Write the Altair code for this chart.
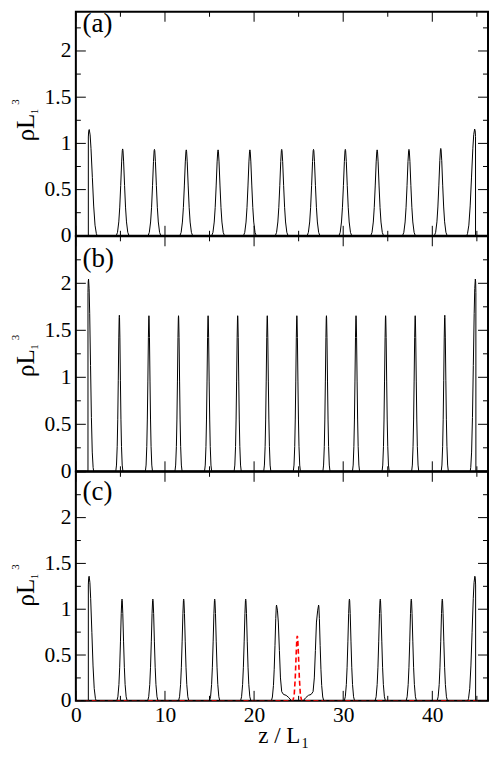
import altair as alt
import pandas as pd

X_MAX = 46.25
FONT = "Times New Roman, Liberation Serif, Tinos, Nimbus Roman, DejaVu Serif, serif"

# ---- peak shape (offset in half-widths, fraction of height)
PEAK_DX = [-1.0, -0.8, -0.6, -0.45, -0.3, -0.15, -0.05, 0.0, 0.05, 0.15, 0.3, 0.45, 0.6, 0.8, 1.0]
PEAK_F = [0.0, 0.04, 0.16, 0.33, 0.58, 0.86, 0.985, 1.0, 0.985, 0.86, 0.58, 0.33, 0.16, 0.04, 0.0]
# wall peak shape (distance from wall in wall-widths, fraction of height)
WALL_DX = [0.0, 0.0, 0.04, 0.1, 0.2, 0.3, 0.45, 0.6, 0.75, 0.9, 1.0]
WALL_F = [0.0, 0.93, 0.985, 1.0, 0.95, 0.82, 0.55, 0.28, 0.1, 0.02, 0.0]

# ---- panel (a)
a_walls = [1.40, 44.85]
a_wall_h = [1.15, 1.155]
a_wall_w = 1.0
a_centers = [5.25, 8.82, 12.39, 15.96, 19.53, 23.10, 26.67, 30.24, 33.81, 37.38, 40.95]
a_heights = [0.94, 0.935, 0.93, 0.93, 0.93, 0.935, 0.935, 0.935, 0.93, 0.935, 0.945]
a_hw = 0.72

# ---- panel (b)
b_walls = [1.36, 44.89]
b_wall_h = [2.045, 2.045]
b_wall_w = 0.64
b_centers = [4.88, 8.20, 11.52, 14.84, 18.16, 21.48, 24.80, 28.12, 31.44, 34.76, 38.08, 41.40]
b_heights = [1.66, 1.655, 1.655, 1.655, 1.655, 1.655, 1.655, 1.655, 1.655, 1.655, 1.655, 1.66]
b_hw = 0.40

# ---- panel (c)
c_walls = [1.40, 44.86]
c_wall_h = [1.36, 1.36]
c_wall_w = 0.88
c_centers = [5.18, 8.64, 12.10, 15.58, 19.06, 22.52, 27.24, 30.70, 34.16, 37.64, 41.12]
c_heights = [1.11, 1.11, 1.11, 1.11, 1.11, 1.045, 1.045, 1.11, 1.11, 1.11, 1.11]
c_sides = ["both", "both", "both", "both", "both", "left", "right", "both", "both", "both", "both"]
c_hw = 0.58
# black line around the defect (shoulders)
c_defect_x = [22.62, 22.72, 22.84, 22.96, 23.10, 23.30, 23.60, 23.90, 24.20,
              25.50, 25.80, 26.10, 26.40, 26.62, 26.76, 26.88, 27.00, 27.14]
c_defect_y = [0.99, 0.86, 0.55, 0.25, 0.10, 0.07, 0.06, 0.035, 0.0,
              0.0, 0.035, 0.06, 0.07, 0.10, 0.25, 0.55, 0.86, 0.99]
# red dashed profile
red_x = [0.0, 24.35, 24.50, 24.62, 24.72, 24.80, 24.85, 24.90, 24.98, 25.08, 25.20, 25.35, 46.25]
red_y = [0.0, 0.0, 0.06, 0.25, 0.50, 0.68, 0.71, 0.68, 0.50, 0.25, 0.06, 0.0, 0.0]

Y_MAJOR = [0, 0.5, 1, 1.5, 2, 2.5]
Y_MINOR = [0.25, 0.75, 1.25, 1.75, 2.25]
Y_LABELS = [0, 0.5, 1, 1.5, 2]
X_MAJOR = [0, 10, 20, 30, 40]
X_MINOR = [5, 15, 25, 35, 45]

W = 413


def build_line(walls, wall_h, wall_w, centers, heights, hw, sides=None, ex=None, ey=None):
    pts = [(0.0, 0.0)]
    for dx, f in zip(WALL_DX, WALL_F):
        pts.append((walls[0] + dx * wall_w, f * wall_h[0]))
    if sides is None:
        sides = ["both"] * len(centers)
    for c, h, s in zip(centers, heights, sides):
        for dx, f in zip(PEAK_DX, PEAK_F):
            if s == "left" and dx > 0:
                continue
            if s == "right" and dx < 0:
                continue
            pts.append((c + dx * hw, f * h))
    if ex is not None:
        pts += list(zip(ex, ey))
    rw = [(walls[1] - dx * wall_w, f * wall_h[1]) for dx, f in zip(WALL_DX, WALL_F)]
    pts += rw[::-1]
    pts.append((X_MAX, 0.0))
    pts = sorted(pts, key=lambda p: p[0])
    return pd.DataFrame({"x": [p[0] for p in pts], "y": [p[1] for p in pts],
                         "i": list(range(len(pts)))})


def panel(df, h, ytop, label, label_y, red=None, bottom=False):
    xs = alt.Scale(domain=[0, X_MAX], nice=False, zero=False)
    ys = alt.Scale(domain=[0, ytop], nice=False, zero=False)
    if bottom:
        xaxis = alt.Axis(values=X_MAJOR, ticks=False, domain=False, grid=False, title=None,
                         labelFlush=False, labelOverlap=False, labelPadding=4,
                         labelFont=FONT, labelFontSize=21.5, labelColor="black")
    else:
        xaxis = None
    yaxis = alt.Axis(values=Y_LABELS, format="~g", ticks=False, domain=False, grid=False,
                     title=None, labelFlush=False, labelOverlap=False, labelPadding=5,
                     labelFont=FONT, labelFontSize=21.5, labelColor="black")
    xenc = alt.X("x:Q", scale=xs, axis=xaxis)
    yenc = alt.Y("y:Q", scale=ys, axis=yaxis)

    layers = []
    if red is not None:
        layers.append(alt.Chart(red).mark_line(color="#ff0000", strokeWidth=1.6,
                                               strokeDash=[5, 3], clip=True)
                      .encode(x=xenc, y=yenc, order="i:Q"))
    layers.append(alt.Chart(df).mark_line(color="black", strokeWidth=1, clip=True)
                  .encode(x=xenc, y=yenc, order="i:Q"))

    ymaj = pd.DataFrame({"y": [v for v in Y_MAJOR if v <= ytop]})
    ymin = pd.DataFrame({"y": [v for v in Y_MINOR if v <= ytop]})
    xmaj = pd.DataFrame({"x": X_MAJOR})
    xmin = pd.DataFrame({"x": X_MINOR})
    tick = dict(color="black", strokeWidth=1)
    for d, L in ((ymaj, 10), (ymin, 5)):
        layers.append(alt.Chart(d).mark_rule(**tick).encode(y=yenc, x=alt.value(0), x2=alt.value(L)))
        layers.append(alt.Chart(d).mark_rule(**tick).encode(y=yenc, x=alt.value(W - L), x2=alt.value(W)))
    for d, L in ((xmaj, 10), (xmin, 5)):
        layers.append(alt.Chart(d).mark_rule(**tick).encode(x=xenc, y=alt.value(h), y2=alt.value(h - L)))
        layers.append(alt.Chart(d).mark_rule(**tick).encode(x=xenc, y=alt.value(0), y2=alt.value(L)))

    # panel label
    layers.append(alt.Chart(pd.DataFrame({"t": [label]})).mark_text(
        font=FONT, fontSize=27, align="left", baseline="alphabetic", color="black")
        .encode(text="t:N", x=alt.value(6.7), y=alt.value(label_y)))
    # y title  rho L_1^3
    layers.append(alt.Chart(pd.DataFrame({"t": ["ρL"]})).mark_text(
        font=FONT, fontSize=25, align="center", baseline="alphabetic", angle=270, color="black")
        .encode(text="t:N", x=alt.value(-42), y=alt.value(h - 108.5)))
    layers.append(alt.Chart(pd.DataFrame({"t": ["1"]})).mark_text(
        font=FONT, fontSize=10, align="center", baseline="alphabetic", angle=270, color="black")
        .encode(text="t:N", x=alt.value(-38.3), y=alt.value(h - 124.5)))
    layers.append(alt.Chart(pd.DataFrame({"t": ["3"]})).mark_text(
        font=FONT, fontSize=11, align="center", baseline="alphabetic", angle=270, color="black")
        .encode(text="t:N", x=alt.value(-57), y=alt.value(h - 134)))
    # invisible left anchor (fixes left extent)
    layers.append(alt.Chart(pd.DataFrame({"t": [0]})).mark_rule(opacity=0, strokeWidth=1)
                  .encode(x=alt.value(-66.5), x2=alt.value(-66.5),
                          y=alt.value(h / 2), y2=alt.value(h / 2 + 1)))
    if bottom:
        layers.append(alt.Chart(pd.DataFrame({"t": ["z / L"]})).mark_text(
            font=FONT, fontSize=23, align="right", baseline="alphabetic", color="black")
            .encode(text="t:N", x=alt.value(225), y=alt.value(h + 42.5)))
        layers.append(alt.Chart(pd.DataFrame({"t": ["1"]})).mark_text(
            font=FONT, fontSize=14, align="left", baseline="alphabetic", color="black")
            .encode(text="t:N", x=alt.value(226), y=alt.value(h + 47)))
    return alt.layer(*layers).properties(width=W, height=h)


dfa = build_line(a_walls, a_wall_h, a_wall_w, a_centers, a_heights, a_hw)
dfb = build_line(b_walls, b_wall_h, b_wall_w, b_centers, b_heights, b_hw)
dfc = build_line(c_walls, c_wall_h, c_wall_w, c_centers, c_heights, c_hw,
                 sides=c_sides, ex=c_defect_x, ey=c_defect_y)
dfr = pd.DataFrame({"x": red_x, "y": red_y, "i": list(range(len(red_x)))})

HA, HB, HC = 224.5, 235.5, 229.5
pa = panel(dfa, HA, HA / 92.6, "(a)", 20.6)
pb = panel(dfb, HB, 2.5, "(b)", 30.5)
pc = panel(dfc, HC, 2.5, "(c)", 28.0, red=dfr, bottom=True)

chart = alt.vconcat(pa, pb, pc, spacing=0, bounds="flush").properties(
    padding={"left": 0, "top": 0, "right": 0, "bottom": 0},
    background="white",
).configure_view(stroke="black", strokeWidth=2)

chart.save("out.html", embed_options={"renderer": "svg", "actions": False})
